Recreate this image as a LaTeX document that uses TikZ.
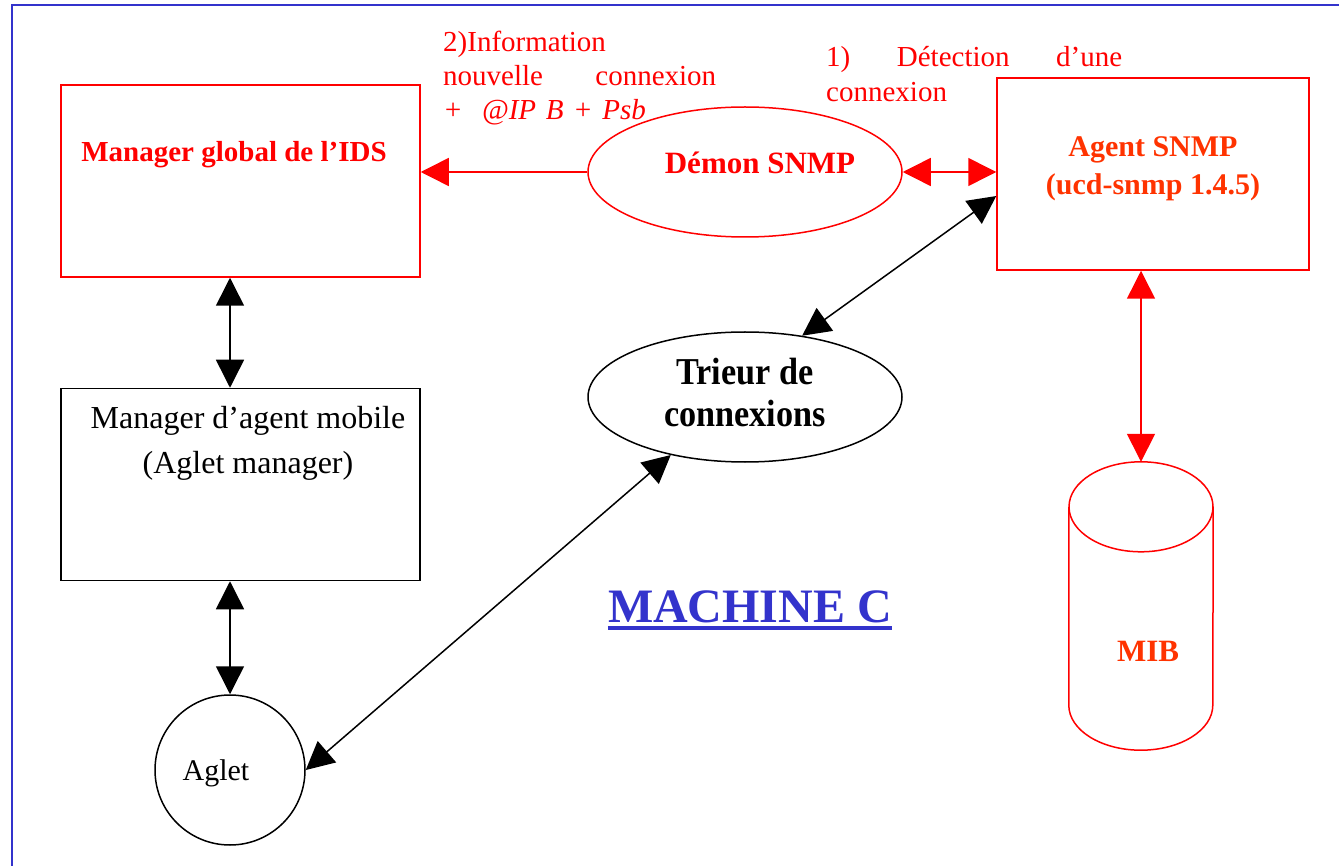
\documentclass[tikz,border=0pt]{standalone}
\usepackage{fontspec}
\setmainfont{Liberation Serif}
\newfontfamily\serre[FakeStretch=0.9]{Liberation Serif}
\usepackage{tikz}
\usetikzlibrary{positioning}
\usetikzlibrary{arrows.meta}
\usetikzlibrary{shapes}
\usetikzlibrary{calc}
\definecolor{rouge}{HTML}{FF0000}
\definecolor{rougeorange}{HTML}{FF3300}
\definecolor{bleu}{HTML}{3333CC}

\begin{document}
\begin{tikzpicture}[x=1pt,y=-1pt]
\tikzset{boite/.style={rectangle,minimum width=359pt,minimum height=192pt,line width=1.5pt,draw}}
\tikzset{bulle/.style={ellipse,minimum width=314pt,minimum height=130pt,line width=1.5pt,draw}}
\tikzset{texte/.style={anchor=base,align=center,inner sep=0pt}}
\tikzset{fleche/.style={{Triangle[length=28pt,width=28pt]}-{Triangle[length=28pt,width=28pt]},line width=1.5pt}}

\useasboundingbox (0,0) rectangle (1339,866);
\draw[bleu,line width=2pt] (1339,5) -- (12,5) -- (12,866);

% boites et bulles
\node[boite,rouge] (mgr) at (240.5,181) {};
\node[boite] (mam) at (240.5,484.5) {};
\node[boite,rouge,minimum width=312pt] (agent) at (1153,174) {};
\node[bulle,rouge] (demon) at (745,172) {};
\node[bulle] (trieur) at (745,397) {};
\node[circle,minimum size=150pt,line width=1.5pt,draw] (aglet) at (230,770) {};
\node[minimum width=144pt,minimum height=288pt,inner sep=0pt] (mib) at (1141,606) {};

% MIB
\draw[rouge,line width=1.5pt] ($(mib.north)+(0,45)$) ellipse [x radius=72,y radius=45];
\draw[rouge,line width=1.5pt] ($(mib.north west)+(0,45)$) -- ($(mib.south west)+(0,-45)$)
  arc[start angle=180,end angle=0,x radius=72,y radius=45] -- ($(mib.north east)+(0,45)$);

% textes (base = derniere ligne)
\node[texte,rouge,font=\fontsize{29}{34}\selectfont\bfseries] at (234,162) {Manager global de l'IDS};
\node[texte,rouge,font=\fontsize{31}{36}\selectfont\bfseries] at (760,174) {Démon SNMP};
\node[texte,rougeorange,font=\fontsize{30}{38}\selectfont\bfseries] at (1153,195) {Agent SNMP\\(ucd-snmp 1.4.5)};
\node[texte,font=\fontsize{32}{44}\selectfont] at (248,473) {Manager d'agent mobile\\(Aglet manager)};
\node[texte,font=\fontsize{38}{42}\selectfont\serre\bfseries] at (745,427) {Trieur de\\connexions};
\node[texte,font=\fontsize{30}{36}\selectfont] at (216,780) {Aglet};
\node[texte,rougeorange,font=\fontsize{31}{36}\selectfont\bfseries] at (1148,661) {MIB};
\node[texte,bleu,font=\fontsize{48}{52}\selectfont\bfseries] (machine) at (750,622) {MACHINE C};
\draw[bleu,line width=4pt] ($(machine.base west)+(0,6)$) -- ($(machine.base east)+(0,6)$);

\node[rouge,anchor=base west,text width=273pt,align=left,inner sep=0pt,font=\fontsize{29}{34}\selectfont] (info) at (443,52)
  {2)Information\\nouvelle\hfill connexion\\\textit{+ \ @IP B + Psb}};
\node[rouge,anchor=base west,text width=296pt,align=left,inner sep=0pt,font=\fontsize{29}{35}\selectfont] (detect) at (826,67)
  {1)\hfill Détection\hfill d'une\\connexion};

% fleches
\draw[rouge,line width=1.5pt,-{Triangle[length=28pt,width=28pt]}] (demon.west) -- (demon.west -| mgr.east);
\draw[fleche,rouge] (demon.east) -- (demon.east -| agent.west);
\draw[fleche] (aglet.north |- mgr.south) -- (aglet.north |- mam.north);
\draw[fleche] (aglet.north |- mam.south) -- (aglet.north);
\draw[fleche] (aglet.east) -- (trieur.218);
\draw[fleche] (trieur.47.5) -- (agent.188);
\draw[fleche,rouge] (mib.north |- agent.south) -- (mib.north);
\end{tikzpicture}
\end{document}
